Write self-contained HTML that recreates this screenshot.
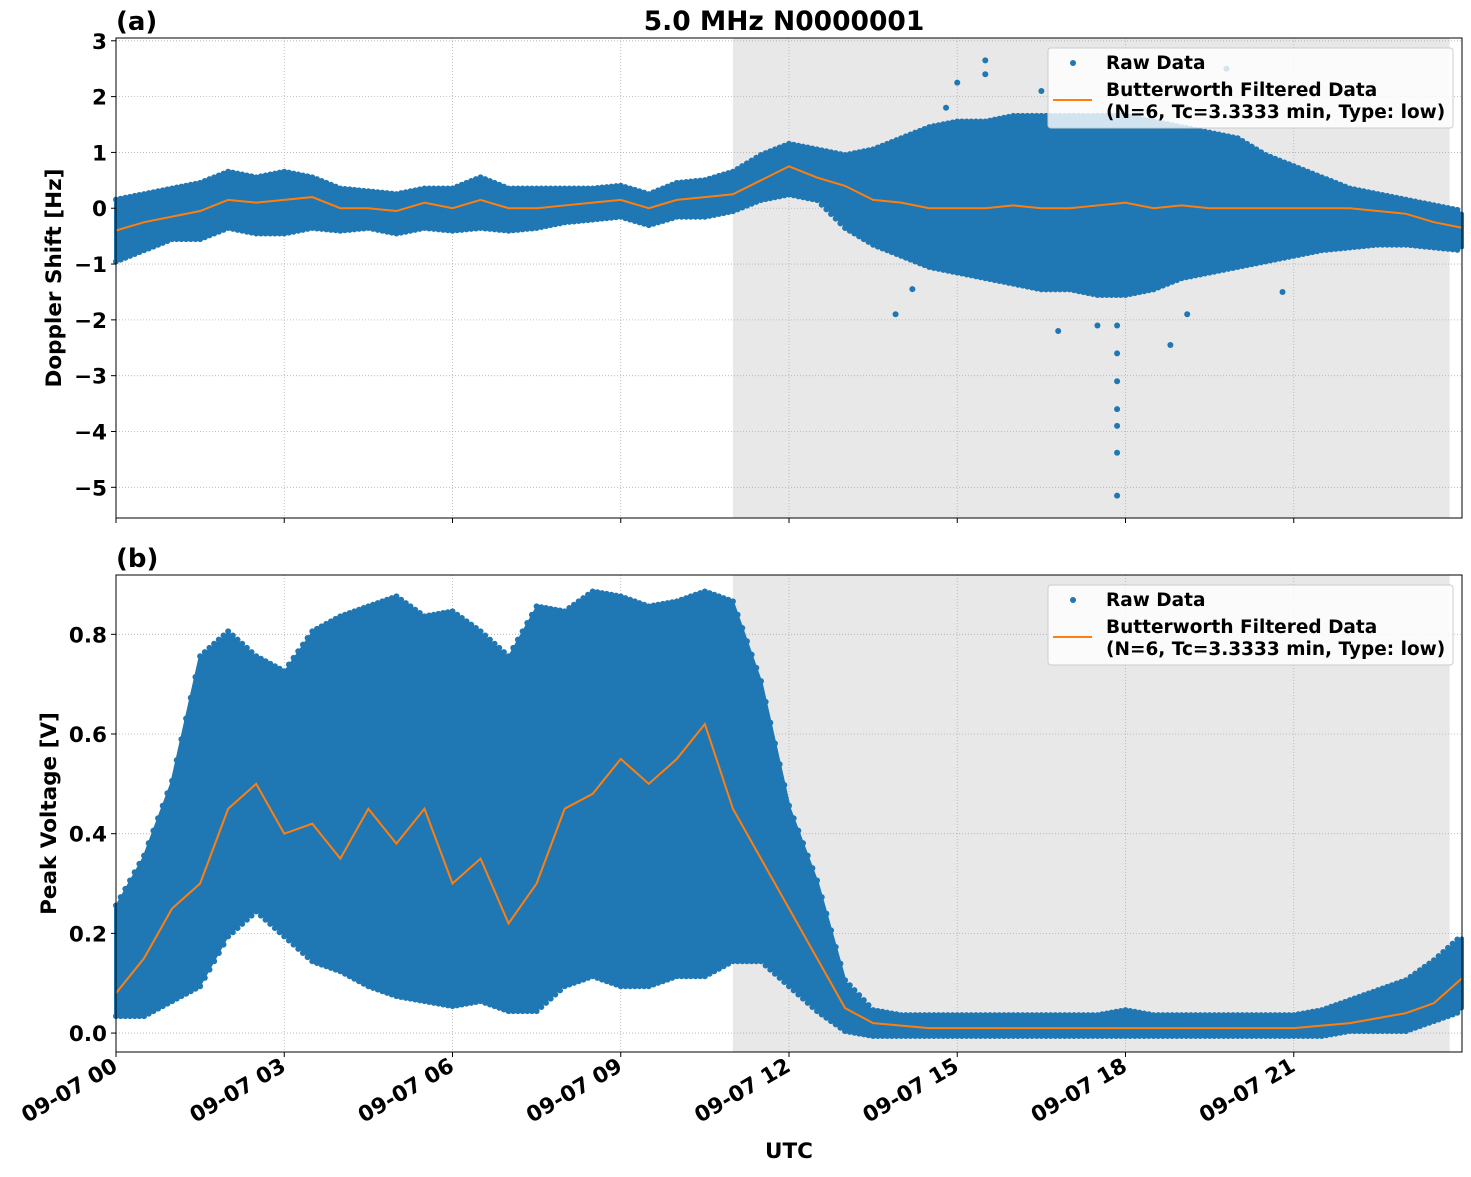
<!DOCTYPE html>
<html><head><meta charset="utf-8"><style>
body{margin:0;background:#fff}
svg text{font-family:"DejaVu Sans","Liberation Sans",sans-serif;font-weight:bold}
</style></head><body>
<svg id="fig" width="1471" height="1172" xmlns="http://www.w3.org/2000/svg"></svg>
<script>
const times=[0,0.5,1,1.5,2,2.5,3,3.5,4,4.5,5,5.5,6,6.5,7,7.5,8,8.5,9,9.5,10,10.5,11,11.5,12,12.5,13,13.5,14,14.5,15,15.5,16,16.5,17,17.5,18,18.5,19,19.5,20,20.5,21,21.5,22,22.5,23,23.5,24];
const dopFilt=[-0.4,-0.25,-0.15,-0.05,0.15,0.1,0.15,0.2,0.0,0.0,-0.05,0.1,0.0,0.15,0.0,0.0,0.05,0.1,0.15,0.0,0.15,0.2,0.25,0.5,0.75,0.55,0.4,0.15,0.1,0.0,0.0,0.0,0.05,0.0,0.0,0.05,0.1,0.0,0.05,0.0,0.0,0.0,0.0,0.0,0.0,-0.05,-0.1,-0.25,-0.35];
const dopUpper=[0.1,0.2,0.3,0.4,0.6,0.5,0.6,0.5,0.3,0.25,0.2,0.3,0.3,0.5,0.3,0.3,0.3,0.3,0.35,0.2,0.4,0.45,0.6,0.9,1.1,1.0,0.9,1.0,1.2,1.4,1.5,1.5,1.6,1.6,1.6,1.6,1.6,1.5,1.4,1.3,1.2,0.9,0.7,0.5,0.3,0.2,0.1,0.0,-0.1];
const dopLower=[-0.9,-0.7,-0.5,-0.5,-0.3,-0.4,-0.4,-0.3,-0.35,-0.3,-0.4,-0.3,-0.35,-0.3,-0.35,-0.3,-0.2,-0.15,-0.1,-0.25,-0.1,-0.1,0.0,0.2,0.3,0.2,-0.3,-0.6,-0.8,-1.0,-1.1,-1.2,-1.3,-1.4,-1.4,-1.5,-1.5,-1.4,-1.2,-1.1,-1.0,-0.9,-0.8,-0.7,-0.65,-0.6,-0.6,-0.65,-0.7];
const dopOutT=[17.85,17.85,17.85,17.85,17.85,17.85,17.85,15.5,15.5,15.0,19.8,16.5,18.8,14.2,16.8,17.5,20.8,13.9,19.1,14.8];
const dopOutV=[-5.15,-4.38,-3.9,-3.6,-3.1,-2.6,-2.1,2.65,2.4,2.25,2.5,2.1,-2.45,-1.45,-2.2,-2.1,-1.5,-1.9,-1.9,1.8];
const vUpper=[0.25,0.35,0.5,0.75,0.8,0.75,0.72,0.8,0.83,0.85,0.87,0.83,0.84,0.8,0.75,0.85,0.84,0.88,0.87,0.85,0.86,0.88,0.86,0.7,0.45,0.3,0.1,0.04,0.03,0.03,0.03,0.03,0.03,0.03,0.03,0.03,0.04,0.03,0.03,0.03,0.03,0.03,0.03,0.04,0.06,0.08,0.1,0.14,0.19];
const vLower=[0.04,0.04,0.07,0.1,0.2,0.25,0.2,0.15,0.13,0.1,0.08,0.07,0.06,0.07,0.05,0.05,0.1,0.12,0.1,0.1,0.12,0.12,0.15,0.15,0.1,0.05,0.01,0.0,0.0,0.0,0.0,0.0,0.0,0.0,0.0,0.0,0.0,0.0,0.0,0.0,0.0,0.0,0.0,0.0,0.01,0.01,0.01,0.03,0.05];
const vFilt=[0.08,0.15,0.25,0.3,0.45,0.5,0.4,0.42,0.35,0.45,0.38,0.45,0.3,0.35,0.22,0.3,0.45,0.48,0.55,0.5,0.55,0.62,0.45,0.35,0.25,0.15,0.05,0.02,0.015,0.01,0.01,0.01,0.01,0.01,0.01,0.01,0.01,0.01,0.01,0.01,0.01,0.01,0.01,0.015,0.02,0.03,0.04,0.06,0.11];
const xTickHours=[0,3,6,9,12,15,18,21];
const xTickLabels=["09-07 00","09-07 03","09-07 06","09-07 09","09-07 12","09-07 15","09-07 18","09-07 21"];
const dopTicks=[3,2,1,0,-1,-2,-3,-4,-5];
const dopTickLabels=["3","2","1","0","\u22121","\u22122","\u22123","\u22124","\u22125"];
const vTicks=[0,0.2,0.4,0.6,0.8];
const vTickLabels=["0.0","0.2","0.4","0.6","0.8"];
const shadeStart=11.0, shadeEnd=23.78;

const NS="http://www.w3.org/2000/svg";
const fig=document.getElementById('fig');
function mk(tag,attrs,parent){const e=document.createElementNS(NS,tag);for(const k in attrs)e.setAttribute(k,attrs[k]);(parent||fig).appendChild(e);return e;}
const L=116,R=1462;
const xs=h=>L+(h-0)*(R-L)/24.0;
function panel(top,bot,ymin,ymax,name){
  const ys=v=>bot-(v-ymin)*(bot-top)/(ymax-ymin);
  const g=mk('g',{});
  
  
  return {g,ys,top,bot};
}
function drawPanel(p,upper,lower,filt,ticks,tickLabels,outT,outV,ylabel,tag,ylabelX){
  const {g,ys,top,bot}=p;
  const sh=mk('rect',{x:xs(shadeStart),y:top,width:xs(shadeEnd)-xs(shadeStart),height:bot-top,fill:'#e8e8e8'},g);
  
  
  ticks.forEach(v=>{mk('line',{x1:L,x2:R,y1:ys(v),y2:ys(v),stroke:'#b0b0b0','stroke-width':0.8,'stroke-dasharray':'1,2'},g);});
  xTickHours.forEach(h=>{mk('line',{x1:xs(h),x2:xs(h),y1:top,y2:bot,stroke:'#b0b0b0','stroke-width':0.8,'stroke-dasharray':'1,2'},g);});
  let pts=times.map((t,i)=>xs(t)+','+ys(upper[i]));
  pts=pts.concat(times.map((t,i)=>xs(t)+','+ys(lower[i])).reverse());
  const band=mk('polygon',{points:pts.join(' '),fill:'#1f77b4',stroke:'#1f77b4','stroke-width':4,'stroke-linejoin':'round'},g);
  
  
  for(let i=0;i<times.length-1;i++){
    for(let k=0;k<6;k++){
      const f=k/6,t=times[i]+f*(times[i+1]-times[i]);
      const u=upper[i]+f*(upper[i+1]-upper[i]),l=lower[i]+f*(lower[i+1]-lower[i]);
      mk('circle',{cx:xs(t),cy:ys(u)-3,r:3,fill:'#1f77b4'},g);
      mk('circle',{cx:xs(t),cy:ys(l)+3,r:3,fill:'#1f77b4'},g);
    }
  }
  outT.forEach((t,i)=>{const c=mk('circle',{cx:xs(t),cy:ys(outV[i]),r:3,fill:'#1f77b4'},g);
    
    });
  const line=mk('polyline',{points:times.map((t,i)=>xs(t)+','+ys(filt[i])).join(' '),fill:'none',stroke:'#ff7f0e','stroke-width':2},g);
  
  
  mk('rect',{x:L,y:top,width:R-L,height:bot-top,fill:'none',stroke:'#000','stroke-width':1},g);
  ticks.forEach((v,i)=>{mk('line',{x1:L-5,x2:L,y1:ys(v),y2:ys(v),stroke:'#000'},g);
    const t=mk('text',{x:L-9,y:ys(v)+8,'text-anchor':'end','font-size':21.5},g);t.textContent=tickLabels[i];
    
    });
  xTickHours.forEach(h=>mk('line',{x1:xs(h),x2:xs(h),y1:bot,y2:bot+5,stroke:'#000'},g));
  const yl=mk('text',{x:ylabelX,y:(top+bot)/2,'text-anchor':'middle','font-size':21.5,transform:`rotate(-90 ${ylabelX} ${(top+bot)/2})`},g);
  yl.textContent=ylabel;
  
  
  const tg=mk('text',{x:116,y:top-8,'font-size':26},g);tg.textContent=tag;
  
  
  const lg=mk('g',{},g);
  
  
  mk('rect',{x:1048,y:top+10,width:405,height:80,rx:3,fill:'#fff','fill-opacity':0.8,stroke:'#ccc'},lg);
  mk('circle',{cx:1073,cy:top+25,r:3,fill:'#1f77b4'},lg);
  const t1=mk('text',{x:1106,y:top+31,'font-size':18.5},lg);t1.textContent='Raw Data';
  mk('line',{x1:1053,x2:1092,y1:top+62,y2:top+62,stroke:'#ff7f0e','stroke-width':2},lg);
  const t2=mk('text',{x:1106,y:top+58,'font-size':18.5},lg);t2.textContent='Butterworth Filtered Data';
  const t3=mk('text',{x:1106,y:top+80,'font-size':18.5},lg);t3.textContent='(N=6, Tc=3.3333 min, Type: low)';
}
const pa=panel(38,518,-5.55,3.05,'doppler-panel');
drawPanel(pa,dopUpper,dopLower,dopFilt,dopTicks,dopTickLabels,dopOutT,dopOutV,'Doppler Shift [Hz]','(a)',61);
const pb=panel(575,1052,-0.038,0.919,'voltage-panel');
drawPanel(pb,vUpper,vLower,vFilt,vTicks,vTickLabels,[17.8],[0.04],'Peak Voltage [V]','(b)',56);
xTickLabels.forEach((s,i)=>{const x=xs(xTickHours[i])+3,y=1070;
  const t=mk('text',{x:x,y:y,'text-anchor':'end','font-size':21.5,transform:`rotate(-30 ${x} ${y})`});t.textContent=s;
  
  });
const xt=mk('text',{x:789,y:1158,'text-anchor':'middle','font-size':21.5});xt.textContent='UTC';


const ti=mk('text',{x:784,y:30,'text-anchor':'middle','font-size':26.5});ti.textContent='5.0 MHz N0000001';


</script>
</body></html>
